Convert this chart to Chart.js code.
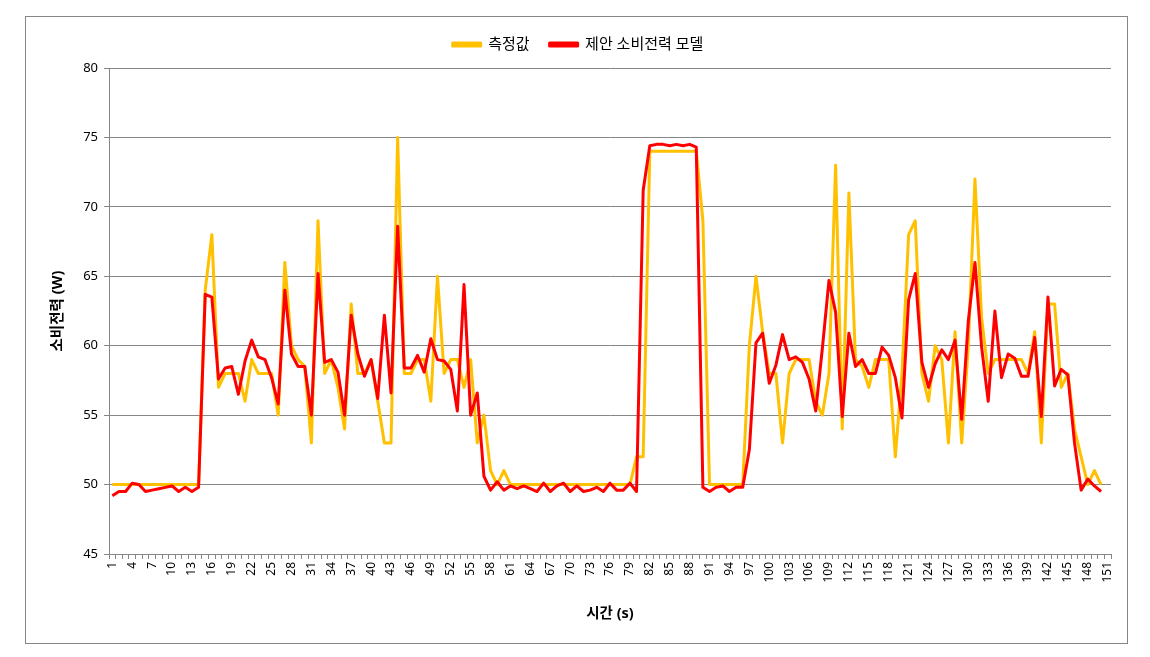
<!DOCTYPE html>
<html>
<head>
<meta charset="utf-8">
<script src="https://cdn.jsdelivr.net/npm/chart.js@4"></script>
<style>
  html, body { margin: 0; padding: 0; background: #fff; }
  #wrap { width: 1150px; height: 657px; }
</style>
</head>
<body>
<div id="wrap"><canvas id="powerChart" width="1150" height="657"></canvas></div>
<script>
// time axis 1..151 (data runs to 150)
const times = [];
for (let t = 1; t <= 151; t++) times.push(String(t));

// 측정값 (measured)
const measured = [
    50, 50, 50, 50, 50, 50, 50, 50, 50, 50,
    50, 50, 50, 50, 64, 68, 57, 58, 58, 58,
    56, 59, 58, 58, 58, 55, 66, 60, 59, 58.5,
    53, 69, 58, 59, 57, 54, 63, 58, 58, 59,
    56, 53, 53, 75, 58, 58, 59, 59, 56, 65,
    58, 59, 59, 57, 59, 53, 55, 51, 50, 51,
    50, 50, 50, 50, 50, 50, 50, 50, 50, 50,
    50, 50, 50, 50, 50, 50, 50, 50, 50, 52,
    52, 74, 74, 74, 74, 74, 74, 74, 74, 69,
    50, 50, 50, 50, 50, 50, 60, 65, 61, 58,
    58, 53, 58, 59, 59, 59, 56, 55, 58, 73,
    54, 71, 59, 58.5, 57, 59, 59, 59, 52, 58,
    68, 69, 58, 56, 60, 59, 53, 61, 53, 60,
    72, 62, 58, 59, 59, 59, 59, 59, 58, 61,
    53, 63, 63, 57, 58, 54, 52, 50, 51, 50
];

// 제안 소비전력 모델 (proposed model)
const model = [
    49.2, 49.5, 49.5, 50.1, 50.0, 49.5, 49.6, 49.7, 49.8, 49.9,
    49.5, 49.8, 49.5, 49.8, 63.7, 63.5, 57.6, 58.4, 58.5, 56.5,
    58.9, 60.4, 59.2, 59.0, 57.7, 55.8, 64.0, 59.4, 58.5, 58.5,
    55.0, 65.2, 58.8, 59.0, 58.1, 55.0, 62.2, 59.4, 57.8, 59.0,
    56.2, 62.2, 56.6, 68.6, 58.4, 58.4, 59.3, 58.1, 60.5, 59.0,
    58.9, 58.3, 55.3, 64.4, 55.0, 56.6, 50.6, 49.6, 50.2, 49.6,
    49.9, 49.7, 49.9, 49.7, 49.5, 50.1, 49.5, 49.9, 50.1, 49.5,
    49.9, 49.5, 49.6, 49.8, 49.5, 50.1, 49.6, 49.6, 50.1, 49.5,
    71.2, 74.4, 74.5, 74.5, 74.4, 74.5, 74.4, 74.5, 74.3, 49.8,
    49.5, 49.8, 49.9, 49.5, 49.8, 49.8, 52.5, 60.2, 60.9, 57.3,
    58.6, 60.8, 59.0, 59.2, 58.8, 57.6, 55.3, 59.8, 64.7, 62.4,
    54.9, 60.9, 58.5, 59.0, 58.0, 58.0, 59.9, 59.3, 57.7, 54.8,
    63.3, 65.2, 58.8, 57.0, 58.7, 59.7, 59.0, 60.4, 54.7, 61.8,
    66.0, 59.9, 56.0, 62.5, 57.7, 59.4, 59.1, 57.8, 57.8, 60.6,
    54.9, 63.5, 57.1, 58.3, 57.9, 53.0, 49.6, 50.4, 49.9, 49.5
];

const seriesNames = ["측정값", "제안 소비전력 모델"];
const seriesColors = ["#FFC000", "#FF0000"];

const font = "'Noto Sans', 'Noto Sans CJK KR', sans-serif";
const gridGray = "#868686";

// white background + thin chart-area frame
const framePlugin = {
    id: 'frame',
    beforeDraw(chart) {
        const c = chart.ctx;
        c.save();
        c.fillStyle = '#fff';
        c.fillRect(0, 0, chart.width, chart.height);
        c.strokeStyle = gridGray;
        c.lineWidth = 1;
        c.strokeRect(25.5, 16.5, 1102, 627);
        c.restore();
    }
};

let ctx = document.getElementById("powerChart").getContext('2d');
new Chart(ctx, {
    type: 'line',
    data: {
        labels: times,
        datasets: [{
            label: seriesNames[0],
            data: measured,
            borderColor: seriesColors[0],
            backgroundColor: seriesColors[0],
            borderWidth: 3,
            pointRadius: 0,
            tension: 0,
            borderJoinStyle: 'round',
            order: 1
        }, {
            label: seriesNames[1],
            data: model,
            borderColor: seriesColors[1],
            backgroundColor: seriesColors[1],
            borderWidth: 3,
            pointRadius: 0,
            tension: 0,
            borderJoinStyle: 'round',
            order: 0
        }]
    },
    options: {
        responsive: false,
        animation: false,
        layout: { padding: { left: 45, right: 39, top: 17, bottom: 30 } },
        plugins: {
            tooltip: { enabled: false },
            legend: {
                position: 'top',
                weight: 3000,
                labels: {
                    boxWidth: 28,
                    boxHeight: 3,
                    padding: 20,
                    color: '#000',
                    font: { family: font, size: 15 },
                    sort: (a, b) => a.datasetIndex - b.datasetIndex
                }
            },
            // blank spacer under the legend
            title: {
                display: true,
                text: ' ',
                weight: 500,
                padding: 0,
                font: { size: 6, lineHeight: 1 }
            }
        },
        scales: {
            x: {
                offset: true,
                grid: {
                    offset: true,
                    drawOnChartArea: false,
                    drawTicks: true,
                    tickLength: 5,
                    color: gridGray
                },
                border: { color: gridGray },
                ticks: {
                    autoSkip: false,
                    minRotation: 90,
                    maxRotation: 90,
                    color: '#000',
                    font: { family: font, size: 12 },
                    callback: function(val, i) { return i % 3 === 0 ? this.getLabelForValue(val) : ''; }
                },
                title: {
                    display: true,
                    text: '시간 (s)',
                    color: '#000',
                    font: { family: font, size: 14.5, weight: 'bold' }
                },
                afterFit: (scale) => { scale.height = 73; }
            },
            y: {
                min: 45,
                max: 80,
                ticks: {
                    stepSize: 5,
                    color: '#000',
                    padding: 6,
                    font: { family: font, size: 13 }
                },
                grid: {
                    color: gridGray,
                    tickLength: 5
                },
                border: { color: gridGray },
                title: {
                    display: true,
                    text: '소비전력 (W)',
                    color: '#000',
                    font: { family: font, size: 14.5, weight: 'bold' }
                },
                afterFit: (scale) => { scale.width = 64; }
            }
        }
    },
    plugins: [framePlugin]
});
</script>
</body>
</html>
